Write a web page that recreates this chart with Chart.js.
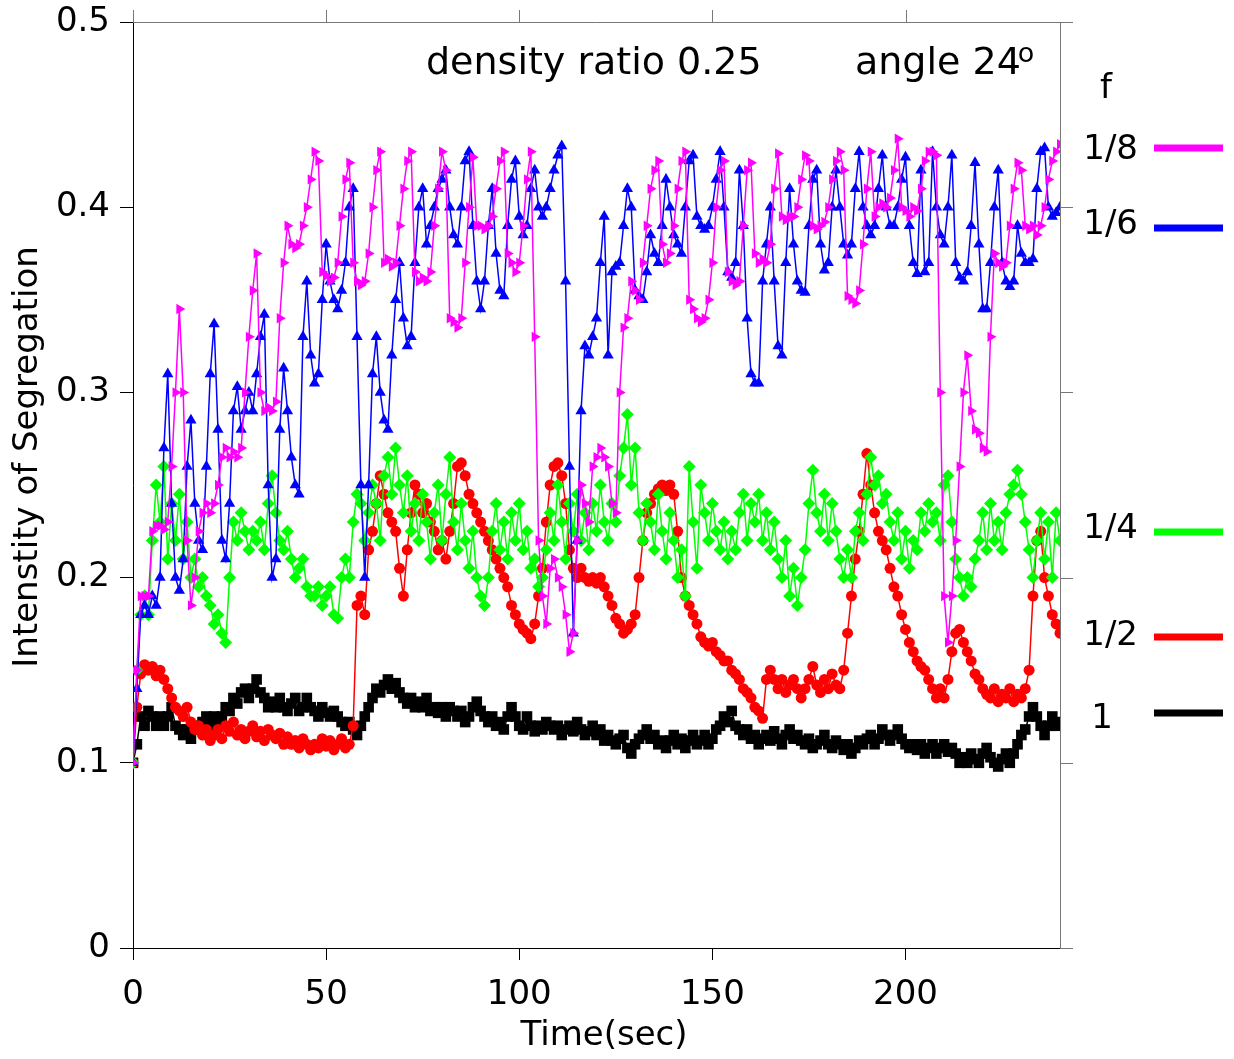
<!DOCTYPE html>
<html>
<head>
<meta charset="utf-8">
<title>Intensity of segregation</title>
<script src="https://cdn.jsdelivr.net/npm/chart.js@4.4.0/dist/chart.umd.min.js"></script>
<style>
    html, body { margin: 0; padding: 0; background: #fff; }
    #wrap { width: 1234px; height: 1059px; position: relative; }
</style>
</head>
<body>
<div id="wrap"><canvas id="segregationChart" width="1234" height="1059"></canvas></div>
<script>
// samples every second, t = 0 .. 240 s
const TIME_STEP = 1;
const X_MAX = 240;
const xTicks = [0, 50, 100, 150, 200];
const yTicks = [0, 0.1, 0.2, 0.3, 0.4, 0.5];

const seriesLabels = ['1/8', '1/6', '1/4', '1/2', '1'];
const seriesColors = ['#ff00ff', '#0000ff', '#00ff00', '#ff0000', '#000000'];

// f = 1/8
const f8 = [
    0.10,0.15,0.19,0.19,0.19,0.225,0.228,0.228,0.226,0.23,
    0.26,0.30,0.345,0.30,0.22,0.185,0.20,0.225,0.235,0.24,
    0.235,0.24,0.25,0.265,0.27,0.265,0.268,0.265,0.27,0.30,
    0.33,0.355,0.375,0.30,0.29,0.292,0.29,0.295,0.34,0.37,
    0.39,0.38,0.378,0.38,0.39,0.40,0.415,0.43,0.425,0.365,
    0.363,0.36,0.362,0.37,0.395,0.415,0.424,0.37,0.36,0.358,
    0.36,0.375,0.40,0.42,0.43,0.37,0.372,0.368,0.37,0.39,
    0.41,0.425,0.43,0.365,0.36,0.362,0.36,0.365,0.39,0.41,
    0.43,0.42,0.34,0.338,0.335,0.34,0.37,0.40,0.427,0.39,
    0.39,0.388,0.39,0.395,0.41,0.425,0.43,0.375,0.37,0.365,
    0.37,0.39,0.415,0.43,0.33,0.22,0.19,0.175,0.205,0.21,
    0.2,0.195,0.18,0.16,0.17,0.22,0.25,0.24,0.23,0.26,
    0.265,0.27,0.265,0.26,0.24,0.235,0.30,0.335,0.34,0.36,
    0.355,0.35,0.37,0.39,0.41,0.42,0.425,0.38,0.37,0.375,
    0.39,0.41,0.425,0.43,0.35,0.345,0.34,0.338,0.34,0.35,
    0.37,0.40,0.42,0.425,0.365,0.36,0.358,0.36,0.39,0.42,
    0.424,0.375,0.37,0.372,0.37,0.38,0.41,0.429,0.395,0.393,
    0.395,0.395,0.40,0.415,0.428,0.425,0.39,0.388,0.39,0.392,
    0.40,0.415,0.425,0.43,0.42,0.352,0.35,0.348,0.355,0.38,
    0.41,0.43,0.395,0.40,0.402,0.40,0.405,0.42,0.437,0.40,
    0.398,0.395,0.40,0.398,0.41,0.425,0.43,0.43,0.428,0.30,
    0.19,0.165,0.19,0.22,0.26,0.30,0.32,0.29,0.28,0.278,
    0.27,0.268,0.33,0.375,0.37,0.368,0.37,0.39,0.41,0.424,
    0.42,0.39,0.388,0.39,0.385,0.39,0.40,0.415,0.425,0.43,
    0.434
];

// f = 1/6
const f6 = [
    0.10,0.14,0.18,0.185,0.18,0.19,0.185,0.20,0.27,0.31,
    0.24,0.2,0.193,0.21,0.26,0.285,0.24,0.22,0.215,0.26,
    0.31,0.337,0.28,0.22,0.21,0.24,0.29,0.303,0.28,0.29,
    0.30,0.29,0.31,0.33,0.342,0.25,0.2,0.21,0.28,0.313,
    0.29,0.265,0.25,0.245,0.33,0.36,0.32,0.305,0.31,0.35,
    0.38,0.36,0.35,0.345,0.355,0.37,0.40,0.41,0.33,0.25,
    0.2,0.25,0.31,0.33,0.30,0.285,0.28,0.32,0.35,0.37,
    0.34,0.325,0.33,0.37,0.40,0.41,0.38,0.39,0.40,0.41,
    0.415,0.42,0.40,0.385,0.38,0.40,0.425,0.43,0.39,0.36,
    0.345,0.36,0.39,0.41,0.375,0.355,0.352,0.39,0.415,0.425,
    0.395,0.385,0.39,0.41,0.42,0.40,0.395,0.40,0.41,0.42,
    0.428,0.433,0.36,0.26,0.17,0.22,0.29,0.325,0.32,0.33,
    0.34,0.37,0.395,0.32,0.365,0.368,0.37,0.39,0.41,0.40,
    0.355,0.352,0.35,0.365,0.385,0.375,0.37,0.39,0.415,0.40,
    0.385,0.38,0.375,0.40,0.425,0.428,0.395,0.39,0.388,0.39,
    0.40,0.415,0.43,0.40,0.365,0.362,0.37,0.42,0.39,0.34,
    0.31,0.305,0.305,0.36,0.38,0.40,0.36,0.325,0.32,0.37,
    0.41,0.38,0.36,0.355,0.354,0.39,0.415,0.42,0.38,0.366,
    0.37,0.40,0.42,0.40,0.38,0.374,0.38,0.41,0.43,0.40,
    0.39,0.385,0.39,0.41,0.428,0.40,0.39,0.39,0.40,0.415,
    0.427,0.39,0.37,0.364,0.42,0.365,0.37,0.43,0.40,0.385,
    0.38,0.40,0.428,0.37,0.362,0.36,0.365,0.39,0.424,0.38,
    0.345,0.345,0.37,0.40,0.42,0.37,0.36,0.357,0.36,0.39,
    0.375,0.37,0.37,0.372,0.41,0.43,0.432,0.40,0.395,0.397,
    0.40
];

// f = 1/4
const f4 = [
    0.10,0.15,0.18,0.19,0.18,0.22,0.25,0.23,0.26,0.21,
    0.24,0.22,0.245,0.21,0.23,0.2,0.21,0.195,0.2,0.19,
    0.185,0.175,0.18,0.17,0.165,0.2,0.23,0.22,0.235,0.225,
    0.215,0.225,0.22,0.23,0.215,0.24,0.255,0.235,0.22,0.215,
    0.225,0.21,0.2,0.205,0.21,0.195,0.19,0.19,0.195,0.185,
    0.19,0.195,0.18,0.178,0.2,0.21,0.2,0.23,0.245,0.24,
    0.22,0.235,0.25,0.24,0.22,0.255,0.265,0.245,0.27,0.25,
    0.235,0.255,0.225,0.24,0.22,0.245,0.23,0.21,0.235,0.25,
    0.22,0.245,0.265,0.23,0.215,0.24,0.22,0.205,0.225,0.2,
    0.19,0.185,0.2,0.225,0.24,0.215,0.23,0.21,0.235,0.22,
    0.24,0.215,0.225,0.205,0.21,0.195,0.2,0.215,0.235,0.22,
    0.25,0.23,0.21,0.24,0.225,0.245,0.22,0.235,0.215,0.24,
    0.225,0.25,0.23,0.22,0.24,0.23,0.255,0.27,0.288,0.25,
    0.27,0.235,0.22,0.24,0.23,0.215,0.245,0.225,0.21,0.235,
    0.22,0.2,0.215,0.19,0.26,0.23,0.205,0.25,0.235,0.22,
    0.24,0.225,0.215,0.23,0.21,0.225,0.215,0.235,0.245,0.22,
    0.24,0.23,0.245,0.22,0.235,0.215,0.23,0.21,0.2,0.22,
    0.19,0.205,0.185,0.2,0.215,0.24,0.258,0.235,0.225,0.245,
    0.22,0.24,0.225,0.21,0.2,0.215,0.2,0.225,0.235,0.22,
    0.245,0.265,0.25,0.255,0.24,0.245,0.23,0.22,0.235,0.21,
    0.225,0.205,0.22,0.215,0.235,0.225,0.24,0.23,0.235,0.22,
    0.25,0.255,0.23,0.21,0.2,0.19,0.2,0.195,0.21,0.22,
    0.235,0.215,0.24,0.22,0.23,0.215,0.235,0.245,0.25,0.258,
    0.245,0.23,0.215,0.2,0.22,0.235,0.21,0.23,0.2,0.235,
    0.22
];

// f = 1/2
const f2 = [
    0.10,0.13,0.148,0.153,0.15,0.152,0.147,0.15,0.145,0.14,
    0.135,0.13,0.128,0.125,0.13,0.122,0.118,0.12,0.115,0.118,
    0.112,0.115,0.118,0.113,0.12,0.117,0.122,0.115,0.118,0.113,
    0.117,0.12,0.114,0.117,0.112,0.118,0.115,0.113,0.116,0.11,
    0.114,0.11,0.112,0.108,0.113,0.11,0.107,0.11,0.108,0.113,
    0.109,0.112,0.107,0.11,0.113,0.108,0.11,0.12,0.185,0.19,
    0.18,0.215,0.225,0.24,0.255,0.245,0.235,0.23,0.225,0.205,
    0.19,0.215,0.235,0.25,0.245,0.235,0.24,0.23,0.225,0.215,
    0.22,0.21,0.225,0.24,0.26,0.262,0.255,0.245,0.24,0.235,
    0.23,0.225,0.22,0.215,0.21,0.205,0.2,0.195,0.185,0.18,
    0.175,0.172,0.17,0.167,0.175,0.19,0.205,0.23,0.25,0.26,
    0.262,0.255,0.24,0.215,0.205,0.2,0.205,0.2,0.198,0.2,
    0.197,0.2,0.195,0.19,0.185,0.178,0.175,0.17,0.172,0.175,
    0.18,0.2,0.22,0.235,0.24,0.245,0.248,0.25,0.247,0.25,
    0.245,0.225,0.2,0.19,0.185,0.18,0.175,0.168,0.165,0.163,
    0.165,0.16,0.158,0.155,0.155,0.15,0.148,0.145,0.14,0.138,
    0.135,0.13,0.128,0.124,0.145,0.15,0.145,0.14,0.145,0.138,
    0.142,0.145,0.14,0.135,0.14,0.145,0.152,0.142,0.138,0.145,
    0.14,0.148,0.142,0.14,0.15,0.17,0.19,0.21,0.225,0.245,
    0.267,0.25,0.235,0.225,0.22,0.215,0.205,0.195,0.19,0.18,
    0.172,0.165,0.16,0.155,0.152,0.15,0.145,0.14,0.135,0.14,
    0.135,0.145,0.16,0.17,0.172,0.165,0.16,0.155,0.148,0.145,
    0.14,0.137,0.135,0.14,0.133,0.137,0.135,0.14,0.133,0.137,
    0.135,0.14,0.15,0.19,0.22,0.225,0.2,0.19,0.18,0.175,
    0.17
];

// f = 1
const f1 = [
    0.10,0.11,0.125,0.12,0.128,0.125,0.12,0.125,0.12,0.125,
    0.13,0.12,0.118,0.115,0.118,0.113,0.12,0.118,0.122,0.125,
    0.12,0.125,0.122,0.125,0.13,0.128,0.135,0.132,0.138,0.14,
    0.135,0.14,0.145,0.138,0.135,0.13,0.133,0.13,0.135,0.13,
    0.128,0.132,0.135,0.128,0.13,0.135,0.13,0.128,0.125,0.13,
    0.127,0.125,0.128,0.125,0.122,0.12,0.122,0.118,0.115,0.12,
    0.125,0.13,0.135,0.14,0.138,0.142,0.145,0.14,0.143,0.138,
    0.135,0.132,0.135,0.13,0.133,0.13,0.135,0.128,0.13,0.127,
    0.13,0.125,0.13,0.128,0.125,0.128,0.122,0.125,0.13,0.133,
    0.128,0.125,0.122,0.125,0.12,0.122,0.118,0.125,0.13,0.125,
    0.12,0.118,0.125,0.12,0.117,0.12,0.118,0.122,0.12,0.118,
    0.12,0.115,0.118,0.12,0.117,0.122,0.118,0.115,0.117,0.12,
    0.115,0.118,0.112,0.115,0.112,0.11,0.113,0.115,0.108,0.105,
    0.11,0.113,0.115,0.118,0.113,0.115,0.11,0.112,0.108,0.112,
    0.115,0.11,0.113,0.108,0.112,0.115,0.11,0.112,0.115,0.11,
    0.113,0.118,0.12,0.125,0.122,0.128,0.12,0.118,0.115,0.118,
    0.113,0.115,0.11,0.113,0.115,0.112,0.117,0.113,0.11,0.115,
    0.118,0.113,0.115,0.112,0.11,0.113,0.108,0.11,0.112,0.115,
    0.11,0.108,0.112,0.11,0.107,0.11,0.105,0.108,0.112,0.11,
    0.113,0.115,0.11,0.113,0.118,0.115,0.112,0.115,0.118,0.113,
    0.11,0.108,0.11,0.107,0.11,0.105,0.108,0.11,0.105,0.108,
    0.11,0.106,0.108,0.105,0.1,0.103,0.1,0.105,0.102,0.1,
    0.105,0.108,0.103,0.1,0.098,0.102,0.105,0.1,0.105,0.11,
    0.115,0.118,0.125,0.13,0.125,0.12,0.115,0.12,0.125,0.12,
    0.122
];

const seriesValues = [f8, f6, f4, f2, f1];
const markerStyles = ['triangle', 'triangle', 'rectRot', 'circle', 'rect'];
const markerRotation = [90, 0, 0, 0, 0];
const markerRadius = [6, 6.5, 6.5, 5.5, 7.5];

const FONT = 'DejaVu Sans';

function toPoints(values) {
    return values.map((v, i) => ({ x: i * TIME_STEP, y: v }));
}

// border box, mirrored ticks, axis titles, header text and the "f" key on the right
const framePlugin = {
    id: 'frame',
    afterDraw(chart) {
        const ctx = chart.ctx;
        const a = chart.chartArea;
        const xs = chart.scales.x;
        const ys = chart.scales.y;
        ctx.save();
        ctx.lineWidth = 1;
        ctx.strokeStyle = '#777';
        ctx.beginPath();
        ctx.moveTo(a.left, a.top + 0.5);
        ctx.lineTo(a.right, a.top + 0.5);
        ctx.moveTo(a.right + 0.5, a.top);
        ctx.lineTo(a.right + 0.5, a.bottom);
        xTicks.forEach(v => {
            const px = Math.round(xs.getPixelForValue(v)) + 0.5;
            ctx.moveTo(px, a.top);
            ctx.lineTo(px, a.top - 12);
        });
        yTicks.forEach(v => {
            const py = Math.round(ys.getPixelForValue(v)) + 0.5;
            ctx.moveTo(a.right, py);
            ctx.lineTo(a.right + 13, py);
        });
        ctx.stroke();

        ctx.fillStyle = '#000';
        ctx.textBaseline = 'alphabetic';
        ctx.textAlign = 'left';
        ctx.font = '38px "' + FONT + '"';
        ctx.fillText('density ratio 0.25', 426, 74);
        const ang = 'angle 24';
        ctx.fillText(ang, 855, 74);
        const w = ctx.measureText(ang).width;
        ctx.font = '27px "' + FONT + '"';
        ctx.fillText('o', 855 + w - 3, 62);

        // axis titles
        ctx.font = '34px "' + FONT + '"';
        ctx.textBaseline = 'middle';
        ctx.textAlign = 'center';
        ctx.fillText('Time(sec)', 604, 1036);
        ctx.save();
        ctx.translate(28, 457);
        ctx.rotate(-Math.PI / 2);
        ctx.fillText('Intenstity of Segregation', 0, 0);
        ctx.restore();

        // key
        ctx.fillText('f', 1106, 89);
        const textY = [150, 225, 529, 636, 719];
        const lineY = [148, 228, 532, 637, 713];
        seriesLabels.forEach((lab, i) => {
            if (lab.length > 1) {
                ctx.textAlign = 'right';
                ctx.fillText(lab, 1138, textY[i]);
            } else {
                ctx.textAlign = 'center';
                ctx.fillText(lab, 1102, textY[i]);
            }
            ctx.strokeStyle = seriesColors[i];
            ctx.lineWidth = 7;
            ctx.beginPath();
            ctx.moveTo(1154, lineY[i]);
            ctx.lineTo(1223, lineY[i]);
            ctx.stroke();
        });
        ctx.restore();
    }
};

function createSegregationChart() {
    const ctx = document.getElementById('segregationChart');
    if (!ctx) return;
    new Chart(ctx, {
        type: 'line',
        data: {
            datasets: seriesValues.map((vals, i) => ({
                label: seriesLabels[i],
                data: toPoints(vals),
                borderColor: seriesColors[i],
                backgroundColor: seriesColors[i],
                borderWidth: 1.5,
                pointStyle: markerStyles[i],
                pointRotation: markerRotation[i],
                pointRadius: markerRadius[i],
                pointBackgroundColor: seriesColors[i],
                pointBorderColor: seriesColors[i],
                pointBorderWidth: 0,
                tension: 0,
                fill: false
            }))
        },
        options: {
            responsive: false,
            animation: false,
            devicePixelRatio: 1,
            layout: {
                padding: { top: 22, right: 174, left: 0, bottom: 0 }
            },
            plugins: {
                legend: { display: false },
                tooltip: { enabled: false }
            },
            scales: {
                x: {
                    type: 'linear',
                    min: 0,
                    max: X_MAX,
                    afterBuildTicks: s => { s.ticks = xTicks.map(v => ({ value: v })); },
                    afterFit: s => { s.height = 111; s.paddingLeft = 0; s.paddingRight = 0; },
                    grid: { drawOnChartArea: false, drawTicks: true, tickLength: 12, color: '#000' },
                    border: { display: true, color: '#000', width: 1 },
                    ticks: {
                        color: '#000',
                        font: { family: FONT, size: 34 },
                        padding: 15,
                        maxRotation: 0
                    },
                    title: { display: false }
                },
                y: {
                    min: 0,
                    max: 0.5,
                    afterBuildTicks: s => { s.ticks = yTicks.map(v => ({ value: v })); },
                    afterFit: s => { s.width = 133; s.paddingTop = 0; s.paddingBottom = 0; },
                    grid: { drawOnChartArea: false, drawTicks: true, tickLength: 13, color: '#000' },
                    border: { display: true, color: '#000', width: 1 },
                    ticks: {
                        color: '#000',
                        font: { family: FONT, size: 34 },
                        padding: 10
                    },
                    title: { display: false }
                }
            }
        },
        plugins: [framePlugin]
    });
}

document.addEventListener('DOMContentLoaded', function() {
    createSegregationChart();
});
</script>
</body>
</html>
